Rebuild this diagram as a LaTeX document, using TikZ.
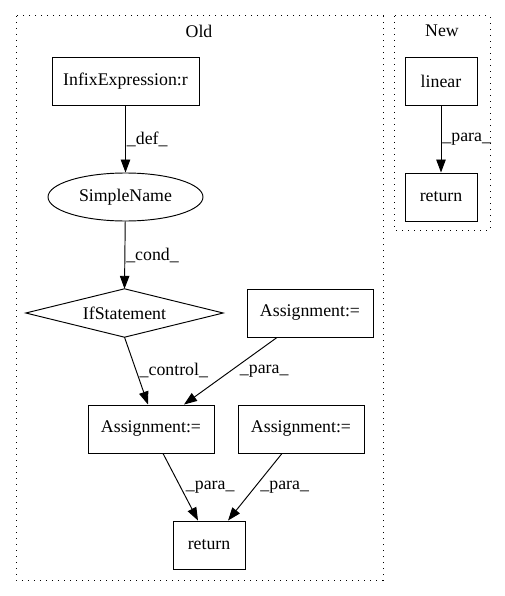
\documentclass[tikz,border=0pt]{standalone}
\usepackage{fontspec}
\setmainfont{Liberation Serif}
\usetikzlibrary{shapes.geometric,arrows.meta}
\begin{document}
\begin{tikzpicture}[x=1pt,y=-1pt,
  every node/.style={font=\fontsize{17.8}{20}\selectfont},
  box/.style={draw, line width=0.95pt, inner sep=0pt},
  oval/.style={draw, ellipse, line width=0.95pt, inner sep=0pt, minimum width=155pt, minimum height=48pt},
  clusterbox/.style={line width=1pt, dash pattern=on 1.3pt off 4.7pt},
  conn/.style={line width=0.95pt, -{Triangle[length=13pt,width=9.5pt]}},
  elabel/.style={anchor=west, inner sep=1pt}]
\useasboundingbox (0,0) rectangle (505,596);
% clusters
\draw[clusterbox] (16,16) rectangle (383,580);
\draw[clusterbox] (394,16) rectangle (490,230);
\node (oldlbl) at (199,31) {Old};
\node (newlbl) at (442,31) {New};
% nodes
\node[box, minimum width=147pt, minimum height=48pt] (infix) at (125.5,81) {InfixExpression:r};
\node[oval] (sn) at (125.5,197) {SimpleName};
\node[minimum width=197pt, minimum height=48pt, inner sep=0pt] (ifs) at (124.5,313) {IfStatement};
\draw[line width=0.95pt] (ifs.north) -- (ifs.east) -- (ifs.south) -- (ifs.west) -- cycle;
\node[box, minimum width=126pt, minimum height=48pt] (asgA) at (310,313) {Assignment:=};
\node[box, minimum width=126pt, minimum height=48pt] (asgB) at (151,429) {Assignment:=};
\node[box, minimum width=126pt, minimum height=48pt] (asgC) at (301,429) {Assignment:=};
\node[box, minimum width=72pt, minimum height=48pt] (ret) at (209,545) {return};
\node[box, minimum width=72pt, minimum height=48pt] (lin) at (441,81) {linear};
\node[box, minimum width=72pt, minimum height=48pt] (ret2) at (441,197) {return};
% edges
\draw[conn] (infix) -- (sn) node[elabel, pos=0.5] {\_def\_};
\draw[conn] (sn) -- (ifs.north) node[elabel, pos=0.5] {\_cond\_};
\draw[conn] (ifs.south) -- ([xshift=-3pt]asgB.north) node[elabel, pos=0.5, xshift=2pt] {\_control\_};
\draw[conn] ([xshift=-33pt]asgA.south) -- ([xshift=33pt]asgB.north) node[elabel, pos=0.5, xshift=8pt] {\_para\_};
\draw[conn] ([xshift=12pt]asgB.south) -- ([xshift=-11pt]ret.north) node[elabel, pos=0.5, xshift=4pt] {\_para\_};
\draw[conn] ([xshift=-19pt]asgC.south) -- ([xshift=19pt]ret.north) node[elabel, pos=0.5, xshift=4pt] {\_para\_};
\draw[conn] (lin) -- (ret2) node[elabel, pos=0.5] {\_para\_};
\end{tikzpicture}
\end{document}
